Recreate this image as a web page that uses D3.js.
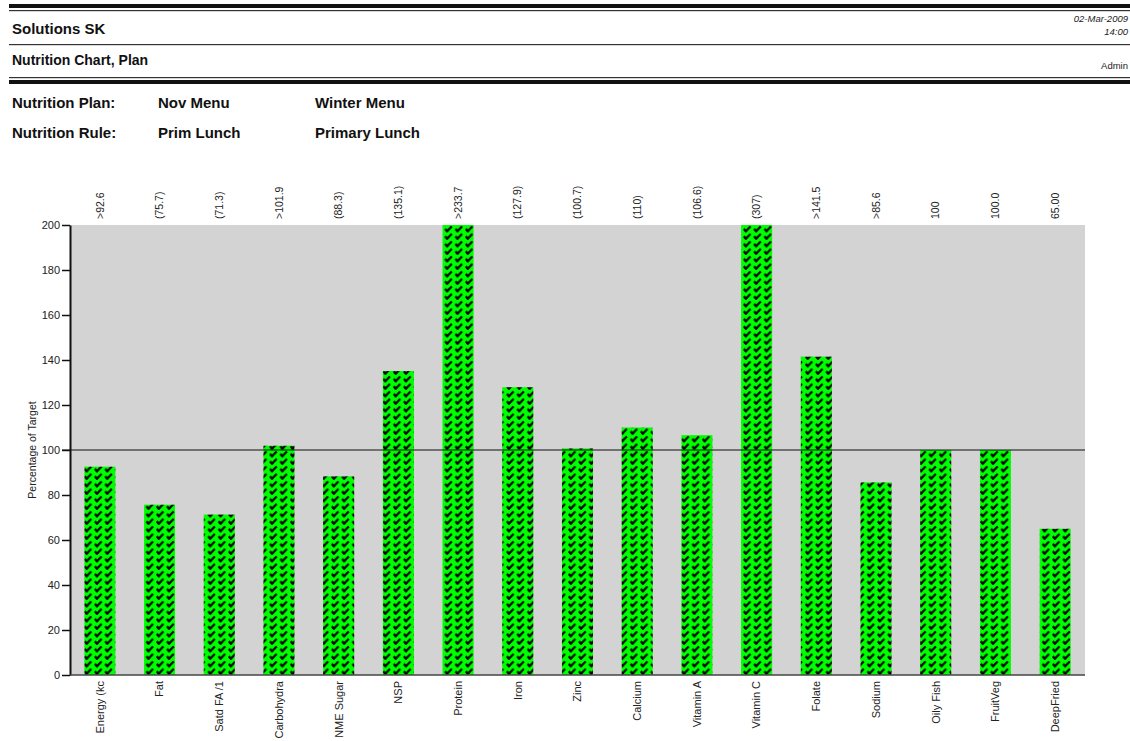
<!DOCTYPE html>
<html lang="en">
<head>
    <meta charset="UTF-8">
    <title>Nutrition Chart, Plan</title>
    <script src="https://d3js.org/d3.v7.min.js"></script>
    <style>
        body { margin: 0; background: #fff; }
        svg { display: block; font-family: "Liberation Sans", Arial, sans-serif; }
        .hdr { font-weight: bold; fill: #111; }
        .small { font-size: 10px; fill: #222; }
        .axis text { font-size: 11px; fill: #222; }
        .cat { font-size: 11px; fill: #222; }
        .val { font-size: 10.5px; fill: #222; }
    </style>
</head>
<body>
    <svg width="1130" height="741"></svg>

    <script>
        // Chart data
        const nutrients = ["Energy (kc", "Fat", "Satd FA /1", "Carbohydra", "NME Sugar", "NSP", "Protein",
            "Iron", "Zinc", "Calcium", "Vitamin A", "Vitamin C", "Folate", "Sodium", "Oily Fish", "FruitVeg", "DeepFried"];
        const percentValues = [92.6, 75.7, 71.3, 101.9, 88.3, 135.1, 233.7, 127.9, 100.7, 110, 106.6, 307, 141.5, 85.6, 100, 100.0, 65.00];
        const valueLabels = [">92.6", "(75.7)", "(71.3)", ">101.9", "(88.3)", "(135.1)", ">233.7", "(127.9)", "(100.7)",
            "(110)", "(106.6)", "(307)", ">141.5", ">85.6", "100", "100.0", "65.00"];
        const yTicks = [0, 20, 40, 60, 80, 100, 120, 140, 160, 180, 200];
        const targetLine = 100;

        const svg = d3.select("svg");

        // Header block
        const W = 1130;
        svg.append("rect").attr("x", 9).attr("y", 4).attr("width", W - 9).attr("height", 4).attr("fill", "#111");
        svg.append("rect").attr("x", 9).attr("y", 10).attr("width", W - 9).attr("height", 1.2).attr("fill", "#333");
        svg.append("rect").attr("x", 9).attr("y", 44).attr("width", W - 9).attr("height", 1.2).attr("fill", "#333");
        svg.append("rect").attr("x", 9).attr("y", 77).attr("width", W - 9).attr("height", 1.2).attr("fill", "#333");
        svg.append("rect").attr("x", 9).attr("y", 80).attr("width", W - 9).attr("height", 4).attr("fill", "#111");

        svg.append("text").attr("class", "hdr").attr("x", 12).attr("y", 34).style("font-size", "15px").text("Solutions SK");
        svg.append("text").attr("class", "hdr").attr("x", 12).attr("y", 65).style("font-size", "14px").text("Nutrition Chart, Plan");
        svg.append("text").attr("class", "small").attr("x", 1128).attr("y", 22).attr("text-anchor", "end")
            .style("font-style", "italic").style("font-size", "9.5px").text("02-Mar-2009");
        svg.append("text").attr("class", "small").attr("x", 1128).attr("y", 35).attr("text-anchor", "end")
            .style("font-style", "italic").style("font-size", "9.5px").text("14:00");
        svg.append("text").attr("class", "small").attr("x", 1128).attr("y", 69).attr("text-anchor", "end")
            .style("font-size", "9.5px").text("Admin");

        const info = [["Nutrition Plan:", "Nov Menu", "Winter Menu", 108], ["Nutrition Rule:", "Prim Lunch", "Primary Lunch", 138]];
        info.forEach(r => {
            svg.append("text").attr("class", "hdr").attr("x", 12).attr("y", r[3]).style("font-size", "15px").text(r[0]);
            svg.append("text").attr("class", "hdr").attr("x", 158).attr("y", r[3]).style("font-size", "15px").text(r[1]);
            svg.append("text").attr("class", "hdr").attr("x", 315).attr("y", r[3]).style("font-size", "15px").text(r[2]);
        });

        // Check mark fill pattern
        const defs = svg.append("defs");
        const pat = defs.append("pattern").attr("id", "checks").attr("patternUnits", "userSpaceOnUse")
            .attr("width", 10.3).attr("height", 7.5).attr("x", 83).attr("y", 0);
        pat.append("rect").attr("width", 10.3).attr("height", 7.5).attr("fill", "#00ff00");
        pat.append("path").attr("d", "M1.6,3.9 L3.7,6.1 L8.3,1.4").attr("fill", "none")
            .attr("stroke", "#000").attr("stroke-width", 2.2);
        pat.append("circle").attr("cx", 3.6).attr("cy", 5.8).attr("r", 1.3).attr("fill", "#000");

        // Plot area
        const plotLeft = 70, plotRight = 1085, plotTop = 225, plotBottom = 675;

        const x = d3.scaleBand().domain(nutrients).range([plotLeft, plotRight]).paddingInner(0.48).paddingOuter(0.24);
        const y = d3.scaleLinear().domain([0, 200]).range([plotBottom, plotTop]).clamp(true);

        svg.append("rect").attr("x", plotLeft).attr("y", plotTop)
            .attr("width", plotRight - plotLeft).attr("height", plotBottom - plotTop)
            .attr("fill", "#d3d3d3");

        svg.selectAll(".bar")
            .data(percentValues)
            .enter()
            .append("rect")
            .attr("class", "bar")
            .attr("x", (d, i) => x(nutrients[i]))
            .attr("width", x.bandwidth())
            .attr("y", d => y(d))
            .attr("height", d => plotBottom - y(d))
            .attr("fill", "url(#checks)");

        // Target line
        svg.append("line").attr("x1", plotLeft - 8).attr("x2", plotRight)
            .attr("y1", y(targetLine)).attr("y2", y(targetLine))
            .attr("stroke", "#111").attr("stroke-width", 1.2);

        // Y axis
        const yAxis = svg.append("g").attr("class", "axis").attr("transform", `translate(${plotLeft},0)`)
            .call(d3.axisLeft(y).tickValues(yTicks).tickSize(8).tickPadding(2).tickSizeOuter(0));
        yAxis.select(".domain").attr("stroke", "#111").attr("stroke-width", 2);
        yAxis.selectAll(".tick line").attr("stroke", "#111").attr("stroke-width", 1.5);

        // Bottom baseline
        svg.append("line").attr("x1", plotLeft).attr("x2", plotRight).attr("y1", plotBottom).attr("y2", plotBottom)
            .attr("stroke", "#444").attr("stroke-width", 1.5);

        svg.append("text").attr("transform", "translate(36,450) rotate(-90)")
            .attr("text-anchor", "middle").style("font-size", "10.5px").attr("fill", "#222").text("Percentage of Target");

        // Category labels
        svg.selectAll(".cat")
            .data(nutrients)
            .enter()
            .append("text")
            .attr("class", "cat")
            .attr("text-anchor", "end")
            .attr("dy", "0.35em")
            .attr("transform", d => `translate(${x(d) + x.bandwidth() / 2},681) rotate(-90)`)
            .text(d => d);

        // Value labels above plot
        svg.selectAll(".val")
            .data(valueLabels)
            .enter()
            .append("text")
            .attr("class", "val")
            .attr("text-anchor", "start")
            .attr("dy", "0.35em")
            .attr("transform", (d, i) => `translate(${x(nutrients[i]) + x.bandwidth() / 2},219) rotate(-90)`)
            .text(d => d);
    </script>
</body>
</html>
